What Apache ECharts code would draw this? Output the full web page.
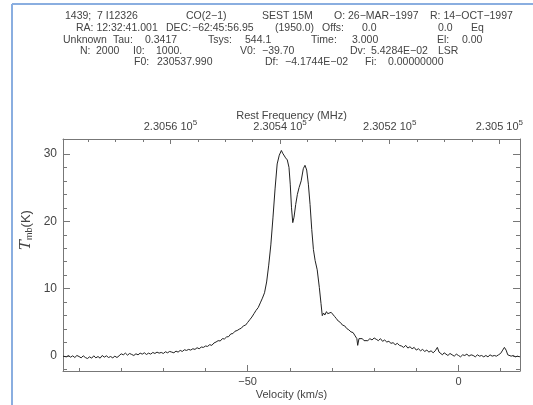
<!DOCTYPE html>
<html>
<head>
<meta charset="utf-8">
<script src="https://cdn.jsdelivr.net/npm/echarts@6/dist/echarts.min.js"></script>
<style>
    html, body { margin: 0; padding: 0; background: #fff; }
    #spectrum { width: 533px; height: 405px; }
</style>
</head>
<body>
<div id="spectrum"></div>
<script>
// spectrum header values (SEST 15M, CO(2-1))
var F0 = 230537.990, V0 = -39.70, Dv = 5.4284E-02, Df = -4.1744E-02;

// velocity (km/s) and main-beam temperature (K)
var velocity = [
    -93.8, -93.5, -93.0, -92.5, -92.0, -91.5, -91.0, -90.5, -90.0, -89.5,
    -89.0, -88.5, -88.0, -87.5, -87.0, -86.5, -86.0, -85.5, -85.0, -84.5,
    -84.0, -83.5, -83.0, -82.5, -82.0, -81.5, -81.0, -80.5, -80.0, -79.5,
    -79.0, -78.5, -78.0, -77.5, -77.0, -76.5, -76.0, -75.5, -75.0, -74.5,
    -74.0, -73.5, -73.0, -72.5, -72.0, -71.5, -71.0, -70.5, -70.0, -69.5,
    -69.0, -68.5, -68.0, -67.5, -67.0, -66.5, -66.0, -65.5, -65.0, -64.5,
    -64.0, -63.5, -63.0, -62.5, -62.0, -61.5, -61.0, -60.5, -60.0, -59.5,
    -59.0, -58.5, -58.0, -57.5, -57.0, -56.5, -56.0, -55.5, -55.0, -54.5,
    -54.0, -53.5, -53.0, -52.5, -52.0, -51.5, -51.0, -50.5, -50.0, -49.5,
    -49.0, -48.5, -48.0, -47.5, -47.0, -46.5, -46.0, -45.5, -45.0, -44.5,
    -44.0, -43.5, -43.0, -42.5, -42.0, -41.7, -41.4, -41.0, -40.6, -40.2,
    -39.9, -39.6, -39.3, -39.0, -38.6, -38.2, -37.8, -37.3, -36.8, -36.4,
    -36.0, -35.6, -35.2, -34.8, -34.4, -34.0, -33.5, -33.0, -32.6, -32.3,
    -32.0, -31.7, -31.3, -31.0, -30.6, -30.2, -29.8, -29.4, -29.0, -28.5,
    -28.0, -27.5, -27.0, -26.5, -26.0, -25.5, -25.0, -24.5, -24.1, -23.9,
    -23.6, -23.2, -22.8, -22.4, -22.0, -21.5, -21.0, -20.5, -20.0, -19.5,
    -19.0, -18.5, -18.0, -17.5, -17.0, -16.5, -16.0, -15.5, -15.0, -14.5,
    -14.0, -13.5, -13.0, -12.5, -12.0, -11.5, -11.0, -10.5, -10.0, -9.5,
    -9.0, -8.5, -8.0, -7.5, -7.0, -6.5, -6.0, -5.5, -5.0, -4.6,
    -4.2, -3.8, -3.4, -3.0, -2.5, -2.0, -1.5, -1.0, -0.5, 0.0,
    0.5, 1.0, 1.5, 2.0, 2.5, 3.0, 3.5, 4.0, 4.5, 5.0,
    5.5, 6.0, 6.5, 7.0, 7.5, 8.0, 8.5, 9.0, 9.5, 10.0,
    10.5, 10.9, 11.3, 11.7, 12.0, 12.5, 13.0, 13.5, 14.0, 14.5
];
var tmb = [
    0.0, 0.15, -0.1, 0.1, -0.15, 0.05, -0.2, 0.1, -0.05, -0.25,
    0.05, -0.2, -0.35, -0.1, -0.3, 0.05, -0.25, -0.05, -0.3, 0.1,
    -0.15, 0.05, -0.2, -0.05, -0.25, 0.0, -0.2, 0.05, 0.35, 0.2,
    0.45, 0.15, 0.4, 0.25, 0.1, 0.35, 0.2, 0.45, 0.3, 0.5,
    0.25, 0.45, 0.3, 0.55, 0.4, 0.6, 0.45, 0.55, 0.4, 0.65,
    0.5, 0.7, 0.6, 0.5, 0.75, 0.6, 0.85, 0.7, 0.95, 0.85,
    1.0, 0.9, 1.1, 1.0, 1.25, 1.1, 1.35, 1.3, 1.5, 1.45,
    1.7, 1.6, 1.95, 2.1, 2.3, 2.25, 2.6, 2.55, 2.85, 2.9,
    3.3, 3.35, 3.7, 3.8, 4.0, 4.15, 4.5, 4.6, 5.0, 5.4,
    5.8, 6.3, 6.8, 7.2, 7.9, 8.6, 9.4, 11.0, 13.5, 16.5,
    20.5, 24.8, 28.5, 29.8, 30.5, 30.1, 30.3, 29.4, 29.1, 28.0,
    25.5, 22.0, 19.8, 20.6, 22.5, 24.0, 25.0, 26.0, 27.8, 28.3,
    27.6, 25.5, 22.5, 18.8, 15.8, 14.2, 12.8, 10.2, 7.8, 6.0,
    6.4, 6.1, 6.6, 6.3, 6.2, 6.5, 6.3, 5.9, 5.6, 5.2,
    5.0, 4.6, 4.5, 4.1, 3.9, 3.6, 3.5, 3.0, 2.6, 1.6,
    2.6, 2.4, 2.6, 2.3, 2.5, 2.3, 2.6, 2.4, 2.7, 2.5,
    2.3, 2.6, 2.2, 2.4, 2.1, 2.2, 1.9, 2.0, 1.7, 1.9,
    1.6, 1.5, 1.3, 1.6, 1.2, 1.4, 1.1, 1.3, 0.9, 1.1,
    0.8, 1.0, 0.7, 0.9, 0.6, 0.8, 0.5, 0.8, 1.3, 0.6,
    0.4, 0.2, 0.5, 0.3, 0.1, 0.4, 0.2, 0.0, 0.3, 0.1,
    -0.1, 0.2, 0.1, 0.3, 0.0, 0.2, 0.1, -0.1, 0.2, 0.0,
    0.1, -0.1, 0.1, -0.1, 0.2, 0.0, 0.1, 0.0, 0.2, 0.4,
    0.9, 1.3, 0.9, 0.2, 0.3, 0.0, 0.1, -0.1, 0.0, -0.1
];

// axis ticks
var velTicks = [-50, 0];
var velMinorTicks = [-90, -80, -70, -60, -40, -30, -20, -10, 10];
var freqTicks = [230560, 230540, 230520, 230500];
var freqMinorTicks = [230575, 230570, 230565, 230555, 230550, 230545, 230535, 230530, 230525, 230515, 230510, 230505];
var tmbTicks = [0, 10, 20, 30];
var tmbMinorTicks = [-2, 2, 4, 6, 8, 12, 14, 16, 18, 22, 24, 26, 28];

// header text, one list per row: [text, x]
var headerRow1 = [["1439;", 65], ["7 I12326", 97], ["CO(2\u22121)", 186], ["SEST 15M", 262], ["O: 26\u2212MAR\u22121997", 334], ["R: 14\u2212OCT\u22121997", 430]];
var headerRow2 = [["RA: 12:32:41.001", 76], ["DEC:", 166], ["\u221262:45:56.95", 192], ["(1950.0)", 275], ["Offs:", 322], ["0.0", 362], ["0.0", 438], ["Eq", 471]];
var headerRow3 = [["Unknown", 63], ["Tau:", 113], ["0.3417", 145], ["Tsys:", 208], ["544.1", 245], ["Time:", 311], ["3.000", 352], ["El:", 437], ["0.00", 462]];
var headerRow4 = [["N:", 80], ["2000", 96], ["I0:", 133], ["1000.", 156], ["V0:", 240], ["\u221239.70", 262], ["Dv:", 350], ["5.4284E\u221202", 371], ["LSR", 438]];
var headerRow5 = [["F0:", 134], ["230537.990", 157], ["Df:", 265], ["\u22124.1744E\u221202", 285], ["Fi:", 365], ["0.00000000", 388]];
var headerRows = [headerRow1, headerRow2, headerRow3, headerRow4, headerRow5];
var headerRowY = [16, 28, 40, 51, 62];

(function () {
    var vMin = -93.8, vMax = 14.6;
    var yMin = -2.2, yMax = 32.2;
    // rest frequency at the velocity edges
    function velToFreq(v) {
        return F0 + (v - V0) / Dv * Df;
    }
    var fLeft = velToFreq(vMin), fRight = velToFreq(vMax);

    var fontName = 'Liberation Sans';
    var frameColor = '#777';
    var textColor = '#444';

    var graphics = [
        {type: 'line', shape: {x1: 12, y1: 4, x2: 12, y2: 405}, style: {stroke: '#8aaee0', lineWidth: 2}},
        {type: 'line', shape: {x1: 12, y1: 4, x2: 533, y2: 4}, style: {stroke: '#8aaee0', lineWidth: 2}}
    ];
    headerRows.forEach(function (row, r) {
        row.forEach(function (tok) {
            graphics.push({
                type: 'text', x: tok[1], y: headerRowY[r],
                style: {text: tok[0], fill: textColor, font: '10.5px ' + fontName, verticalAlign: 'middle'}
            });
        });
    });

    function minus(s) {
        return String(s).replace('-', '\u2212');
    }

    function tickAxis(base, ticks, len) {
        var ax = Object.assign({}, base);
        ax.axisTick = {show: true, inside: true, length: len, customValues: ticks, lineStyle: {color: frameColor}};
        ax.axisLabel = {show: false};
        ax.axisLine = {show: false, onZero: false};
        ax.splitLine = {show: false};
        return ax;
    }

    var velBase = {type: 'value', position: 'bottom', min: vMin, max: vMax};
    var freqBase = {type: 'value', position: 'top', min: fRight, max: fLeft, inverse: true};
    var tLeft = {type: 'value', position: 'left', min: yMin, max: yMax};
    var tRight = {type: 'value', position: 'right', min: yMin, max: yMax};

    var option = {
        animation: false,
        backgroundColor: '#fff',
        grid: {left: 63, right: 13, top: 139, bottom: 18, containLabel: false},
        graphic: graphics,
        xAxis: [
            {
                type: 'value', position: 'bottom', min: vMin, max: vMax,
                name: 'Velocity (km/s)', nameLocation: 'middle', nameGap: 18, nameMoveOverlap: false,
                nameTextStyle: {color: textColor, fontSize: 11, fontFamily: fontName},
                axisLine: {show: true, onZero: false, lineStyle: {color: frameColor}},
                axisTick: {show: true, inside: true, length: 6, customValues: velTicks, lineStyle: {color: frameColor}},
                axisLabel: {
                    customValues: velTicks, margin: 5, color: textColor, fontSize: 11, fontFamily: fontName,
                    formatter: function (v) { return minus(v); }
                },
                splitLine: {show: false}
            },
            tickAxis(velBase, velMinorTicks, 3),
            {
                type: 'value', position: 'top', min: fRight, max: fLeft, inverse: true,
                name: 'Rest Frequency (MHz)', nameLocation: 'middle', nameGap: 18, nameMoveOverlap: false,
                nameTextStyle: {color: textColor, fontSize: 11, fontFamily: fontName},
                axisLine: {show: true, onZero: false, lineStyle: {color: frameColor}},
                axisTick: {show: true, inside: true, length: 5, customValues: freqTicks, lineStyle: {color: frameColor}},
                axisLabel: {
                    customValues: freqTicks, margin: 5, color: textColor, fontSize: 11, fontFamily: fontName,
                    formatter: function (v) { return '{a|' + (v / 1e5) + ' 10}{b|5}'; },
                    rich: {
                        a: {color: textColor, fontSize: 11, fontFamily: fontName},
                        b: {color: textColor, fontSize: 8, fontFamily: fontName, padding: [0, 0, 7, 0]}
                    }
                },
                splitLine: {show: false}
            },
            tickAxis(freqBase, freqMinorTicks, 3)
        ],
        yAxis: [
            {
                type: 'value', position: 'left', min: yMin, max: yMax,
                name: '{t|T}{s|mb}{k|(K)}', nameLocation: 'middle', nameGap: 29, nameRotate: 90, nameMoveOverlap: false,
                nameTextStyle: {
                    padding: [0, 0, 0, 50],
                    rich: {
                        t: {fontSize: 15, fontStyle: 'italic', fontFamily: 'DejaVu Serif', color: textColor},
                        s: {fontSize: 9, fontFamily: fontName, color: textColor, padding: [6, 0, 0, 0]},
                        k: {fontSize: 13, fontFamily: fontName, color: textColor}
                    }
                },
                axisLine: {show: true, onZero: false, lineStyle: {color: frameColor}},
                axisTick: {show: true, inside: true, length: 7, customValues: tmbTicks, lineStyle: {color: frameColor}},
                axisLabel: {customValues: tmbTicks, margin: 6, color: textColor, fontSize: 12, fontFamily: fontName},
                splitLine: {show: false}
            },
            tickAxis(tLeft, tmbMinorTicks, 4),
            {
                type: 'value', position: 'right', min: yMin, max: yMax,
                axisLine: {show: true, onZero: false, lineStyle: {color: frameColor}},
                axisTick: {show: true, inside: true, length: 7, customValues: tmbTicks, lineStyle: {color: frameColor}},
                axisLabel: {show: false},
                splitLine: {show: false}
            },
            tickAxis(tRight, tmbMinorTicks, 4)
        ],
        series: [{
            type: 'line',
            xAxisIndex: 0,
            yAxisIndex: 0,
            symbol: 'none',
            lineStyle: {color: '#222', width: 1},
            data: velocity.map(function (v, i) { return [v, tmb[i]]; })
        }]
    };

    var chart = echarts.init(document.getElementById('spectrum'));
    chart.setOption(option);
})();
</script>
</body>
</html>
